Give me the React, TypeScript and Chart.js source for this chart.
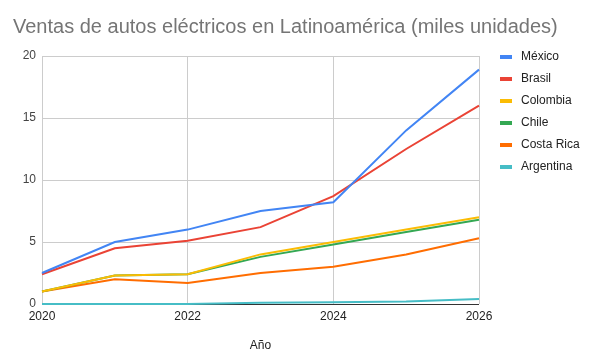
import React, { useEffect, useRef } from "react";
import { Chart, registerables } from "chart.js";

Chart.register(...registerables);

const years = [2020, 2021, 2022, 2023, 2024, 2025, 2026];
const seriesNames = ["México", "Brasil", "Colombia", "Chile", "Costa Rica", "Argentina"];
const mexico = [2.5, 5.0, 6.0, 7.5, 8.2, 14.0, 18.9];
const brasil = [2.4, 4.5, 5.1, 6.2, 8.7, 12.5, 16.0];
const colombia = [1.0, 2.3, 2.4, 4.0, 5.0, 6.0, 7.0];
const chile = [1.0, 2.3, 2.4, 3.8, 4.8, 5.8, 6.8];
const costaRica = [1.0, 2.0, 1.7, 2.5, 3.0, 4.0, 5.3];
const argentina = [0.0, 0.0, 0.0, 0.1, 0.15, 0.2, 0.4];
const colors = ["#4285F4", "#EA4335", "#FBBC04", "#34A853", "#FF6D01", "#46BDC6"];
const yTicks = [0, 5, 10, 15, 20];
const xTicks = [2020, 2022, 2024, 2026];
const titleText = "Ventas de autos eléctricos en Latinoamérica (miles unidades)";
const xTitle = "Año";

const FONT = "'Liberation Sans', Arial, sans-serif";

export default function App() {
  const ref = useRef<HTMLCanvasElement | null>(null);
  useEffect(() => {
    document.body.style.margin = "0";
    const canvas = ref.current;
    if (!canvas) return;
    const allSeries = [mexico, brasil, colombia, chile, costaRica, argentina];
    const overlay = {
      id: "overlay",
      afterDraw(chart: any) {
        const ctx = chart.ctx;
        ctx.save();
        ctx.fillStyle = "#757575";
        ctx.font = `20px ${FONT}`;
        ctx.textAlign = "left";
        ctx.textBaseline = "alphabetic";
        ctx.fillText(titleText, 13, 33);
        ctx.font = `12px ${FONT}`;
        ctx.textBaseline = "middle";
        chart.data.datasets.forEach((ds: any, i: number) => {
          const y = 57 + i * 22;
          ctx.fillStyle = ds.borderColor;
          ctx.fillRect(500, y - 2, 12, 4);
          ctx.fillStyle = "#222222";
          ctx.fillText(ds.label, 521, y);
        });
        ctx.restore();
      },
    };
    const chart = new Chart(canvas, {
      type: "line",
      data: {
        datasets: allSeries.map((vals, i) => ({
          label: seriesNames[i],
          data: years.map((yr, j) => ({ x: yr, y: vals[j] })),
          borderColor: colors[i],
          backgroundColor: colors[i],
          borderWidth: 2,
          pointRadius: 0,
          tension: 0,
          clip: 2,
        })),
      },
      options: {
        animation: false,
        responsive: false,
        layout: { padding: { top: 56, right: 118, left: 0, bottom: 0 } },
        plugins: {
          legend: { display: false },
          title: { display: false },
          tooltip: { enabled: false },
        },
        scales: {
          x: {
            type: "linear",
            min: 2020,
            max: 2026,
            afterBuildTicks: (s: any) => {
              s.ticks = xTicks.map((v) => ({ value: v }));
            },
            afterFit: (s: any) => {
              s.height = 60;
            },
            ticks: {
              padding: 5,
              color: "#222222",
              font: { family: FONT, size: 12 },
              callback: (v: any) => String(v),
              maxRotation: 0,
            },
            grid: { color: "#cccccc", drawTicks: false },
            border: { display: false },
            title: {
              display: true,
              text: xTitle,
              color: "#222222",
              font: { family: FONT, size: 12 },
              padding: { top: 0, bottom: 11 },
            },
          },
          y: {
            type: "linear",
            min: 0,
            max: 20,
            afterBuildTicks: (s: any) => {
              s.ticks = yTicks.map((v) => ({ value: v }));
            },
            afterFit: (s: any) => {
              s.width = 42;
            },
            ticks: {
              padding: 6,
              color: "#444444",
              font: { family: FONT, size: 12 },
            },
            grid: {
              color: (c: any) => (c.tick && c.tick.value === 0 ? "#333333" : "#cccccc"),
              drawTicks: false,
            },
            border: { display: false },
          },
        },
      },
      plugins: [overlay],
    });
    return () => chart.destroy();
  }, []);
  return <canvas ref={ref} width={597} height={364} style={{ display: "block" }} />;
}
